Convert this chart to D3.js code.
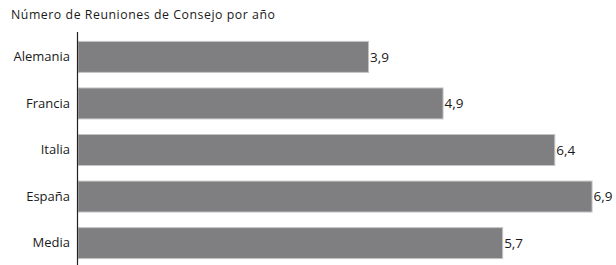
<!DOCTYPE html>
<html><head><meta charset="utf-8">
<script src="https://cdn.jsdelivr.net/npm/d3@7"></script>
<style>body{margin:0;background:#fff}svg{display:block}text{font-family:"Open Sans",sans-serif;fill:#1a1a1a}</style>
</head><body><svg id="c" width="616" height="265"></svg>
<script>
const categories = ["Alemania","Francia","Italia","España","Media"];
const values = [3.9,4.9,6.4,6.9,5.7];
const labels = ["3,9","4,9","6,4","6,9","5,7"];
const title = "Número de Reuniones de Consejo por año";

const svg = d3.select("#c");
const x0 = 78;
const x = d3.scaleLinear().domain([0,1]).range([x0, x0+74.5]);
const y = d3.scaleBand().domain(categories).range([33.5, 266.5]).paddingInner(0.335).paddingOuter(0.17);

svg.append("text").attr("x",11).attr("y",18.5).attr("font-size",12.3).attr("letter-spacing",0.55).text(title);

svg.selectAll("rect.bar").data(values).join("rect")
  .attr("x", x(0)).attr("y",(d,i)=>y(categories[i]))
  .attr("width",d=>x(d)-x(0)).attr("height",y.bandwidth())
  .attr("fill","#7f7f81").attr("stroke","#c4c4c4").attr("stroke-width",1);

svg.selectAll("text.val").data(values).join("text")
  .attr("x",d=>x(d)+1.5).attr("y",(d,i)=>y(categories[i])+y.bandwidth()/2)
  .attr("dy","0.35em").attr("font-size",13.5).text((d,i)=>labels[i]);

const ax = svg.append("g").attr("transform",`translate(${x0-1},0)`)
  .call(d3.axisLeft(y).tickSize(0).tickPadding(7));
ax.select(".domain").attr("stroke","#222").attr("stroke-width",1.2).attr("d","M0.5,32V265");
ax.selectAll("text").attr("font-size",13).attr("font-family","Open Sans").attr("fill","#1a1a1a");
</script></body></html>
